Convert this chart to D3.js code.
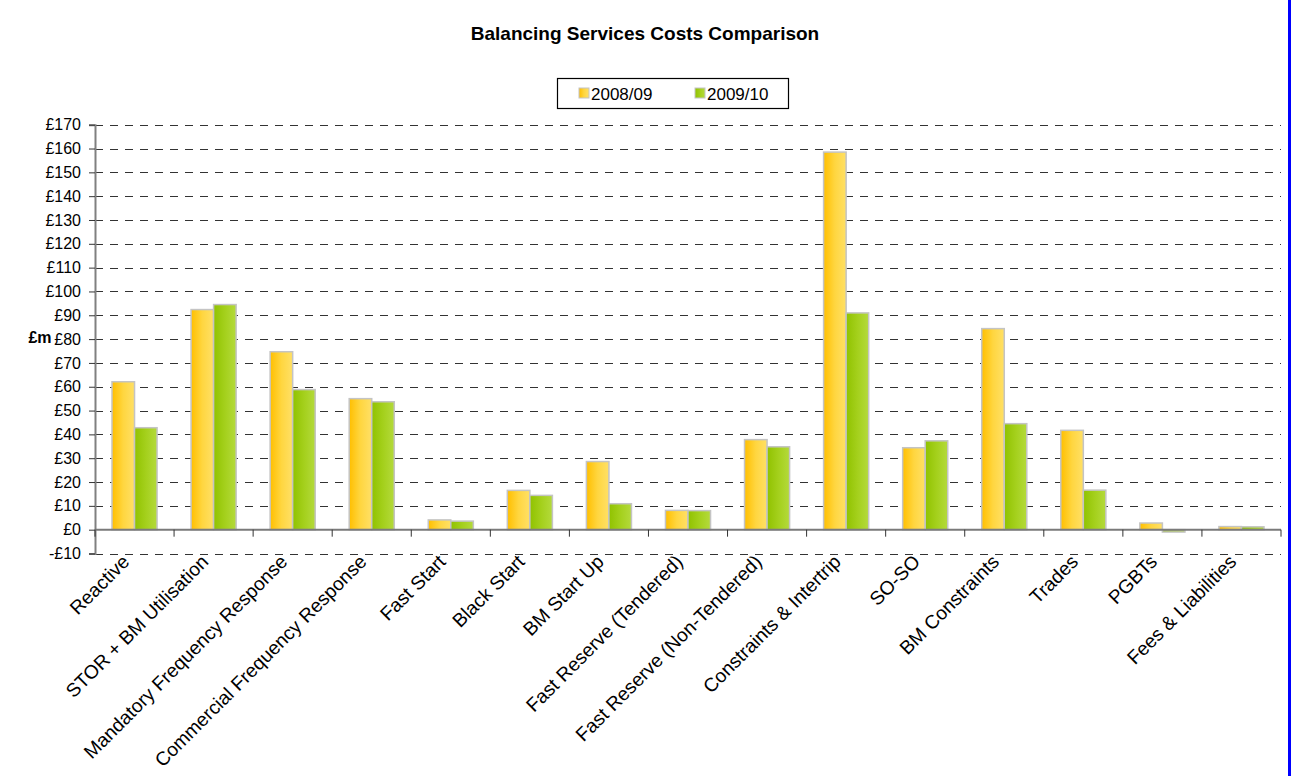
<!DOCTYPE html>
<html>
<head>
<meta charset="utf-8">
<script src="https://cdn.jsdelivr.net/npm/d3@7"></script>
<style>
  html, body { margin: 0; padding: 0; background: #fff; }
  svg { display: block; font-family: "Liberation Sans", Arial, sans-serif; }
</style>
</head>
<body>
<svg id="chart" width="1291" height="776"></svg>
<script>
// Balancing services costs by category, £m
const categories = [
  "Reactive", "STOR + BM Utilisation", "Mandatory Frequency Response",
  "Commercial Frequency Response", "Fast Start", "Black Start", "BM Start Up",
  "Fast Reserve (Tendered)", "Fast Reserve (Non-Tendered)", "Constraints & Intertrip",
  "SO-SO", "BM Constraints", "Trades", "PGBTs", "Fees & Liabilities"
];
const seriesNames = ["2008/09", "2009/10"];
const costs0809 = [62.1, 92.4, 74.7, 55.0, 4.1, 16.5, 28.6, 8.1, 37.8, 158.5, 34.4, 84.4, 41.7, 2.8, 1.3];
const costs0910 = [42.8, 94.5, 58.8, 53.7, 3.6, 14.4, 10.9, 8.0, 34.8, 91.0, 37.3, 44.5, 16.6, -1.0, 1.2];
const yTicks = [-10, 0, 10, 20, 30, 40, 50, 60, 70, 80, 90, 100, 110, 120, 130, 140, 150, 160, 170];

const svg = d3.select("#chart");
const left = 95, right = 1281;

const x0 = d3.scaleBand().domain(categories).range([left, right])
  .paddingInner(0.43).paddingOuter(0.215);
const x1 = d3.scaleBand().domain(seriesNames).range([0, x0.bandwidth()]);
const y = d3.scaleLinear().domain([-10, 170]).range([553.5, 124.7]);

// gradients for the bar fills
const defs = svg.append("defs");
const grads = [
  { id: "gYellow", stops: [["0%", "#ffbf00"], ["50%", "#ffd640"], ["100%", "#ffe066"]] },
  { id: "gGreen", stops: [["0%", "#90c200"], ["50%", "#a4d01c"], ["100%", "#b4da3c"]] }
];
grads.forEach(g => {
  const lg = defs.append("linearGradient").attr("id", g.id)
    .attr("x1", "0%").attr("x2", "100%").attr("y1", "0%").attr("y2", "0%");
  g.stops.forEach(s => lg.append("stop").attr("offset", s[0]).attr("stop-color", s[1]));
});
const fills = ["url(#gYellow)", "url(#gGreen)"];

// title
svg.append("text").attr("x", 645).attr("y", 40).attr("text-anchor", "middle")
  .attr("font-size", 19).attr("font-weight", "bold").attr("fill", "#000")
  .text("Balancing Services Costs Comparison");

// dashed gridlines
svg.append("g").selectAll("line").data(yTicks.filter(t => t !== 0)).join("line")
  .attr("x1", left).attr("x2", right)
  .attr("y1", d => Math.round(y(d)) + 0.5).attr("y2", d => Math.round(y(d)) + 0.5)
  .attr("stroke", "#333").attr("stroke-width", 1).attr("stroke-dasharray", "8,7");

// y axis
const yAxis = d3.axisLeft(y).tickValues(yTicks).tickSize(6).tickPadding(8)
  .tickFormat(d => (d < 0 ? "-£" : "£") + Math.abs(d));
const gy = svg.append("g").attr("transform", `translate(${left},0)`).call(yAxis);
gy.select(".domain").attr("stroke", "#808080").attr("stroke-width", 2);
gy.selectAll(".tick line").attr("stroke", "#333");
gy.selectAll(".tick text").attr("font-size", 16).attr("fill", "#000")
  .attr("font-family", "Liberation Sans, Arial, sans-serif");

// y axis title
svg.append("text").attr("x", 40).attr("y", 343).attr("text-anchor", "middle")
  .attr("font-size", 16).attr("font-weight", "bold").text("£m");

// bars
const rows = categories.map((c, i) => ({ c, v: [costs0809[i], costs0910[i]] }));
const groups = svg.append("g").selectAll("g").data(rows).join("g")
  .attr("transform", d => `translate(${x0(d.c)},0)`);
groups.selectAll("rect").data(d => d.v.map((v, k) => ({ v, k }))).join("rect")
  .attr("x", d => x1(seriesNames[d.k]))
  .attr("width", x1.bandwidth())
  .attr("y", d => y(Math.max(0, d.v)))
  .attr("height", d => Math.abs(y(d.v) - y(0)))
  .attr("fill", d => fills[d.k])
  .attr("stroke", "#c4c4c4").attr("stroke-width", 1.5);

// zero line and category ticks
svg.append("line").attr("x1", left).attr("x2", right).attr("y1", y(0)).attr("y2", y(0))
  .attr("stroke", "#7a7a7a").attr("stroke-width", 2);
const step = x0.step();
const bounds = d3.range(categories.length + 1).map(i => left + i * step);
svg.append("g").selectAll("line").data(bounds).join("line")
  .attr("x1", d => d).attr("x2", d => d)
  .attr("y1", y(0)).attr("y2", y(0) + 7)
  .attr("stroke", "#333").attr("stroke-width", 1);

// category labels
svg.append("g").selectAll("text").data(categories).join("text")
  .attr("transform", d => `translate(${x0(d) + x0.bandwidth() / 2 - 4},563) rotate(-45)`)
  .attr("text-anchor", "end").attr("font-size", 19.2).attr("fill", "#000")
  .text(d => d);

// legend
const lg = svg.append("g");
lg.append("rect").attr("x", 557.5).attr("y", 78.5).attr("width", 231).attr("height", 30)
  .attr("fill", "#fff").attr("stroke", "#000").attr("stroke-width", 1.2);
const legendX = [579, 695];
seriesNames.forEach((s, k) => {
  lg.append("rect").attr("x", legendX[k]).attr("y", 88).attr("width", 10).attr("height", 10)
    .attr("fill", fills[k]).attr("stroke", "#c4c4c4").attr("stroke-width", 1);
  lg.append("text").attr("x", legendX[k] + 12).attr("y", 99.5)
    .attr("font-size", 17).attr("fill", "#000").text(s);
});

// right-hand border
svg.append("rect").attr("x", 1288).attr("y", 0).attr("width", 3).attr("height", 776)
  .attr("fill", "#0000ff");
</script>
</body>
</html>
